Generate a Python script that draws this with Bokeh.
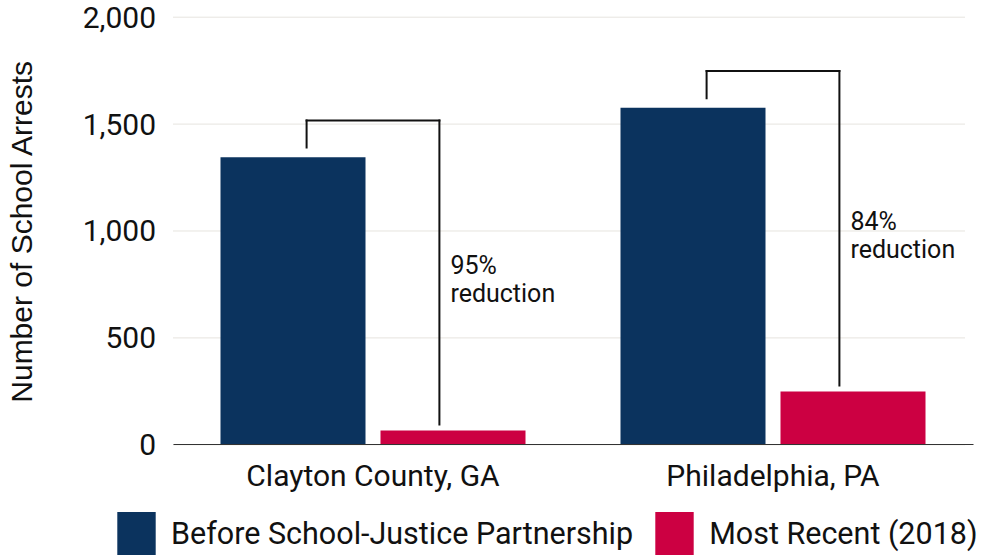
from bokeh.plotting import figure
from bokeh.models import (ColumnDataSource, Range1d, Legend, LegendItem,
                          NumeralTickFormatter, FixedTicker)
from bokeh.transform import dodge
from bokeh.core.properties import value
from bokeh.embed import file_html
from bokeh.resources import INLINE

# ---- data ----
categories = ["Clayton County, GA", "Philadelphia, PA"]
before = [1345, 1576]
recent = [67, 249]
series_labels = ["Before School-Justice Partnership", "Most Recent (2018)"]
y_ticks = [0, 500, 1000, 1500, 2000]

BLUE = "#0b335e"
RED = "#cc0042"
FONT = "Roboto"
INK = "#111111"

n = len(categories)
x_pos = [i + 0.5 for i in range(n)]
reduction = [f"{round((1 - r / b) * 100)}%" for b, r in zip(before, recent)]
top = [b + 172 for b in before]
left_bot = [b + 45 for b in before]
right_bot = [r + 28 for r in recent]
mid = [(t + rb) / 2 for t, rb in zip(top, right_bot)]

src = ColumnDataSource(dict(x=x_pos, before=before, recent=recent,
                            top=top, left_bot=left_bot, right_bot=right_bot,
                            mid=mid, red=reduction, word=["reduction"] * n))

# frame covers the whole canvas; axes are pinned with fixed_location
p = figure(x_range=Range1d(-0.43125, n + 0.02875), y_range=Range1d(-517.8, 2078.1),
           width=984, height=555, output_backend="svg", toolbar_location=None,
           min_border_left=0, min_border_right=0, min_border_top=0,
           min_border_bottom=0)

p.outline_line_color = None
p.background_fill_color = "white"
p.border_fill_color = "white"
p.xgrid.grid_line_color = None
p.ygrid.grid_line_color = None

# horizontal gridlines
p.segment(x0=0, x1=n * 0.99, y0=y_ticks, y1=y_ticks,
          line_color="#e6e4df", line_width=1)

BW = 0.3625
OFF = 0.2
r1 = p.vbar(x=dodge("x", -OFF), top="before", width=BW,
            source=src, fill_color=BLUE, line_color=None)
r2 = p.vbar(x=dodge("x", OFF), top="recent", width=BW,
            source=src, fill_color=RED, line_color=None)

# brackets
A = 0.166
kw = dict(source=src, line_color=INK, line_width=2, line_cap="square")
p.segment(x0=dodge("x", -A), y0="left_bot", x1=dodge("x", -A), y1="top", **kw)
p.segment(x0=dodge("x", -A), y0="top", x1=dodge("x", A), y1="top", **kw)
p.segment(x0=dodge("x", A), y0="top", x1=dodge("x", A), y1="right_bot", **kw)

tkw = dict(source=src, text_font=value(FONT), text_font_size="25px",
           text_color=INK, text_baseline="alphabetic", text_align="left",
           x_offset=11)
p.text(x=dodge("x", A), y="mid", text="red", y_offset=-7, **tkw)
p.text(x=dodge("x", A), y="mid", text="word", y_offset=21, **tkw)

# y axis
p.yaxis.fixed_location = 0
p.yaxis.bounds = (0, 2000)
p.yaxis.ticker = FixedTicker(ticks=y_ticks)
p.yaxis.formatter = NumeralTickFormatter(format="0,0")
p.yaxis.axis_line_color = None
p.yaxis.major_tick_line_color = None
p.yaxis.minor_tick_line_color = None
p.yaxis.major_label_standoff = 11
p.yaxis.major_label_text_font = FONT
p.yaxis.major_label_text_font_size = "30px"
p.yaxis.major_label_text_color = INK
p.yaxis.axis_label = "Number of School Arrests"
p.yaxis.axis_label_text_font = "Liberation Sans"
p.yaxis.axis_label_text_font_size = "30px"
p.yaxis.axis_label_text_font_style = "normal"
p.yaxis.axis_label_text_color = INK
p.yaxis.axis_label_standoff = 42

# x axis
p.xaxis.fixed_location = 0
p.xaxis.bounds = (0, n)
p.xaxis.ticker = FixedTicker(ticks=x_pos)
p.xaxis.major_label_overrides = {x: c for x, c in zip(x_pos, categories)}
p.xaxis.axis_line_color = "#333333"
p.xaxis.axis_line_width = 1.2
p.xaxis.major_tick_line_color = None
p.xaxis.minor_tick_line_color = None
p.xaxis.major_label_standoff = 7
p.xaxis.major_label_text_font = FONT
p.xaxis.major_label_text_font_size = "30px"
p.xaxis.major_label_text_color = INK

# legend (bokeh insets area swatches to 80% of the glyph box)
legend = Legend(items=[LegendItem(label=series_labels[0], renderers=[r1]),
                       LegendItem(label=series_labels[1], renderers=[r2])],
                orientation="horizontal", location=(112, -6),
                glyph_width=48, glyph_height=55, label_standoff=11, spacing=17,
                padding=0, margin=0, border_line_color=None,
                background_fill_alpha=0,
                label_text_font=FONT, label_text_font_size="30.5px",
                label_text_color=INK)
p.add_layout(legend, "center")

open("out.html", "w").write(file_html(p, INLINE))
